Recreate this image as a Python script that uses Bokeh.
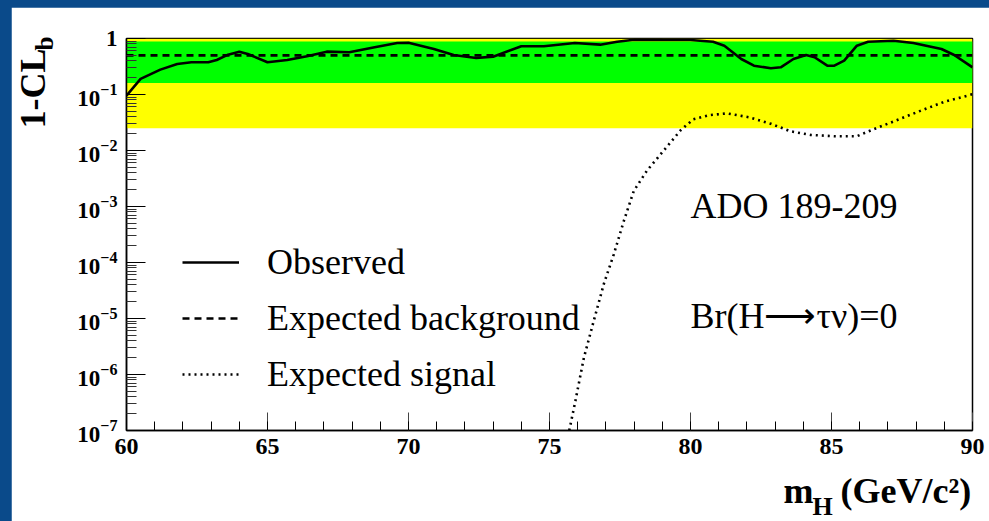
import math
from bokeh.plotting import figure
from bokeh.models import (FixedTicker, Label, Legend, LegendItem, Range1d,
                          LogTickFormatter)
from bokeh.embed import file_html
from bokeh.resources import INLINE

# ---------------- data ----------------
mass_obs = [60.0, 60.5, 61.2, 61.8, 62.3, 62.9, 63.2, 63.6, 64.0, 64.3, 65.0,
            65.7, 66.4, 67.1, 67.9, 68.8, 69.6, 70.0, 70.9, 71.6, 72.4, 73.0,
            74.0, 74.8, 75.9, 76.8, 77.4, 78.0, 79.0, 80.0, 80.8, 81.2, 81.8,
            82.25, 82.85, 83.2, 83.65, 84.1, 84.4, 84.85, 85.1, 85.45, 85.9,
            86.3, 87.2, 87.9, 88.9, 89.35, 90.0]
cl_obs = [0.095, 0.19, 0.278, 0.35, 0.376, 0.376, 0.413, 0.514, 0.582, 0.53,
          0.376, 0.413, 0.481, 0.582, 0.568, 0.697, 0.832, 0.84, 0.65, 0.508,
          0.449, 0.474, 0.726, 0.726, 0.832, 0.776, 0.877, 0.953, 0.944, 0.94,
          0.877, 0.745, 0.43, 0.327, 0.294, 0.306, 0.43, 0.508, 0.462, 0.327,
          0.327, 0.402, 0.745, 0.877, 0.914, 0.832, 0.65, 0.508, 0.306]

mass_sig = [75.7, 75.92, 76.22, 76.57, 76.93, 77.28, 77.64, 77.99, 78.46, 79.0,
            79.65, 80.1, 80.7, 81.3, 82.1, 82.85, 83.55, 84.25, 85.1, 85.9,
            86.5, 87.2, 88.15, 89.0, 90.0]
cl_sig = [1.0e-7, 3.4e-7, 2.0e-6, 9.1e-6, 4.2e-5, 1.4e-4, 5.6e-4, 1.9e-3,
          4.4e-3, 9.3e-3, 2.3e-2, 3.6e-2, 4.3e-2, 4.6e-2, 3.9e-2, 3.0e-2,
          2.2e-2, 1.9e-2, 1.8e-2, 1.8e-2, 2.4e-2, 3.3e-2, 5.1e-2, 7.4e-2,
          0.101]

mass_exp = [60.0, 90.0]
cl_exp = [0.5, 0.5]

band_2s = [0.025, 0.985]
band_1s = [0.16, 0.88]

x_major = [60, 65, 70, 75, 80, 85, 90]
x_minor = list(range(60, 91))
y_exponents = [-7, -6, -5, -4, -3, -2, -1, 0]
x_lo, x_hi = 60, 90
y_lo, y_hi = 1e-7, 1.0

SERIF = "Liberation Serif"
W, H = 978, 514
PAGE_X0, PAGE_Y0 = 11, 7   # where the canvas sits on the page

# ---------------- figure ----------------
p = figure(width=W, height=H, x_range=Range1d(x_lo, x_hi),
           y_range=Range1d(y_lo, y_hi), y_axis_type="log",
           output_backend="svg", toolbar_location=None,
           min_border_left=115, min_border_right=17,
           min_border_top=31, min_border_bottom=91)
p.background_fill_color = "white"
p.border_fill_color = "white"
p.grid.visible = False
p.outline_line_color = "black"
p.outline_line_width = 1.5

# bands
p.quad(left=[x_lo], right=[x_hi], bottom=[band_2s[0]], top=[band_2s[1]],
       fill_color="#ffff00", line_color=None)
p.quad(left=[x_lo], right=[x_hi], bottom=[band_1s[0]], top=[band_1s[1]],
       fill_color="#00ff00", line_color=None)

r_exp = p.line(mass_exp, cl_exp, line_color="black", line_width=2.6,
               line_dash="7 5")
r_obs = p.line(mass_obs, cl_obs, line_color="black", line_width=2.6)
r_sig = p.line(mass_sig, cl_sig, line_color="black", line_width=2.6,
               line_dash="2 4")

# axes
xa = p.xaxis[0]
xa.ticker = FixedTicker(ticks=x_major, minor_ticks=x_minor)
xa.major_tick_in = 18
xa.major_tick_out = 0
xa.minor_tick_in = 9
xa.minor_tick_out = 0
xa.axis_line_width = 1.5
xa.major_tick_line_color = "#444444"
xa.minor_tick_line_color = "black"
xa.major_label_text_font = SERIF
xa.major_label_text_font_style = "bold"
xa.major_label_text_font_size = "24px"
xa.major_label_text_color = "black"
xa.major_label_standoff = 8

ya = p.yaxis[0]
ya.ticker = FixedTicker(ticks=[10.0 ** k for k in y_exponents],
                        minor_ticks=[m * 10.0 ** k for k in y_exponents[:-1]
                                     for m in range(2, 10)])
ya.major_tick_in = 19
ya.major_tick_out = 0
ya.minor_tick_in = 10
ya.minor_tick_out = 0
ya.axis_line_width = 1.5
ya.major_tick_line_color = "black"
ya.minor_tick_line_color = "#333333"
ya.formatter = LogTickFormatter()
ya.major_label_overrides = {1.0: "1"}
ya.major_label_text_font = SERIF
ya.major_label_text_font_style = "bold"
ya.major_label_text_font_size = "23px"
ya.major_label_text_color = "black"
ya.major_label_standoff = 9

MID = 0.35  # distance baseline -> middle line, in em


def side_label(panel, text, px, py, size, angle=0.0):
    """Axis-title text; lives in a side panel (so it is not clipped to the
    frame) and is placed in canvas pixels. (px, py) is the page position of
    the start of the text baseline."""
    if angle == 0.0:
        cx, cy = px, py - MID * size
    else:  # rotated 90 deg counter-clockwise: text 'up' points to -x
        cx, cy = px - MID * size, py
    p.add_layout(Label(x=cx - PAGE_X0, y=cy - PAGE_Y0, x_units="canvas",
                       y_units="canvas", text=text, angle=angle,
                       text_align="left", text_baseline="middle",
                       text_font=SERIF, text_font_style="bold",
                       text_font_size=f"{size}px", text_color="black"), panel)


NB = "\u00a0"
# x-axis title: m_H (GeV/c^2)
side_label("below", "m" + NB * 3 + "(GeV/c\u00b2)", 783, 503, 36)
side_label("left", "H", 812, 515, 26)
# y-axis title: 1-CL_b
side_label("left", "1-CL", 45, 128, 36, angle=math.pi / 2)
side_label("above", "b", 53, 50, 25, angle=math.pi / 2)

# annotations inside the frame
p.add_layout(Label(x=80.0, y=1.03e-3, text="ADO 189-209", text_align="left",
                   text_baseline="alphabetic", text_font=SERIF,
                   text_font_size="36px", text_color="black"))
p.add_layout(Label(x=80.0, y=1.1e-5, text="Br(H\u27f6\u03c4\u03bd)=0",
                   text_align="left", text_baseline="alphabetic",
                   text_font=SERIF, text_font_size="36px", text_color="black"))

# legend
legend = Legend(items=[LegendItem(label="Observed", renderers=[r_obs]),
                       LegendItem(label="Expected background", renderers=[r_exp]),
                       LegendItem(label="Expected signal", renderers=[r_sig])],
                location=(56, 33), orientation="vertical",
                padding=0, margin=0, spacing=10,
                glyph_width=57, glyph_height=46, label_height=46,
                label_standoff=28, label_text_font=SERIF,
                label_text_font_size="36px", label_text_baseline="alphabetic",
                label_text_color="black",
                border_line_color=None, background_fill_alpha=0)
p.add_layout(legend)

html = file_html(p, INLINE)
html = html.replace("</head>",
                    "<style>html,body{background:#0a4a8a;overflow:hidden;}"
                    "body{margin:7px 0 0 11px;padding:0;}</style></head>", 1)
open("out.html", "w").write(html)
